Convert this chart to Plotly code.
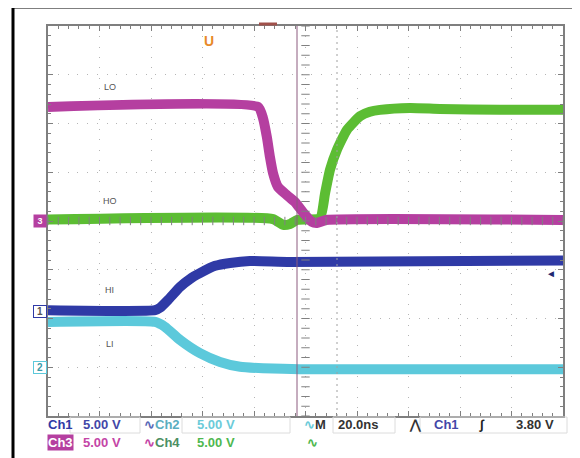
import plotly.graph_objects as go

# time in ns (20 ns/div, 0 = screen centre); levels in screen divisions
t_lo = [-100, -18.4, -16.5, -15.0, -13.8, -12.6, -10.7, -7.2, -4.1, -1.0, 2.5, 4.5, 8.0, 100]
v_lo = [2.34, 2.34, 2.11, 1.72, 1.31, 0.98, 0.70, 0.53, 0.39, 0.18, -0.02, -0.04, 0.02, 0.02]

t_ho = [-100, -12.6, -8.7, -6.0, -3.3, 5.6, 7.6, 9.5, 12.2, 16.1, 21.2, 25.0, 28.9, 40.6, 52.2, 75.5, 100]
v_ho = [0.03, 0.04, -0.08, -0.06, 0.02, 0.06, 0.57, 1.05, 1.46, 1.87, 2.15, 2.24, 2.28, 2.32, 2.30, 2.28, 2.28]

t_hi = [-100, -58.4, -56.5, -53.4, -48.7, -44.9, -41.0, -35.1, -29.3, -21.6, -6.0, 100]
v_hi = [-1.83, -1.83, -1.78, -1.62, -1.35, -1.19, -1.07, -0.92, -0.86, -0.82, -0.84, -0.81]

t_li = [-100, -58.4, -54.6, -48.7, -41.0, -33.2, -25.4, -16.5, -2.1, 100]
v_li = [-2.07, -2.07, -2.17, -2.44, -2.71, -2.89, -2.99, -3.02, -3.04, -3.04]

trace_names = ["LI", "HI", "HO", "LO"]
label_pos = {"LO": 2.75, "HO": 0.41, "HI": -1.42, "LI": -2.53}
gnd_marks = [("3", 0.0), ("1", -1.85), ("2", -3.0)]

C1, C2, C3, C4 = "#2f3aa6", "#5cc9db", "#b53fa0", "#5cbd33"

# page body adds an 8px margin, so the figure is 8px smaller and margins shifted
OFF = 8
W, H = 580 - OFF, 458 - OFF
L, R, T, B = 48, 563, 26, 416  # plot area in screen pixels


def px(x):
    return (x - L) / (R - L)


def py(y):
    return (B - y) / (B - T)


fig = go.Figure()
for t, v, c in [(t_li, v_li, C2), (t_hi, v_hi, C1), (t_ho, v_ho, C4), (t_lo, v_lo, C3)]:
    fig.add_trace(go.Scatter(x=t, y=v, mode="lines", line=dict(color=c, width=10, shape="spline", smoothing=0.5),
                             showlegend=False, hoverinfo="skip"))

# centre-axis tick marks
ticks = [i * 0.2 - 4 for i in range(41)]
fig.add_trace(go.Scatter(x=[0] * len(ticks), y=ticks, mode="markers",
                         marker=dict(symbol="line-ew", size=6, line=dict(width=1, color="#808080")),
                         showlegend=False, hoverinfo="skip"))
tx = [i * 4 - 100 for i in range(51)]
fig.add_trace(go.Scatter(x=tx, y=[0] * len(tx), mode="markers",
                         marker=dict(symbol="line-ns", size=6, line=dict(width=1, color="#808080")),
                         showlegend=False, hoverinfo="skip", cliponaxis=False))

axis_common = dict(showticklabels=False, showline=True, linecolor="#7f7f7f", linewidth=2, mirror="ticks",
                   ticks="inside", ticklen=5, tickcolor="#7f7f7f", zeroline=False,
                   showgrid=True, gridcolor="#b5b5b5", gridwidth=1, fixedrange=True)
fig.update_xaxes(range=[-100, 100], dtick=20, griddash="1px,9.3px",
                 minor=dict(ticks="inside", dtick=4, ticklen=3, tickcolor="#7f7f7f", showgrid=False), **axis_common)
fig.update_yaxes(range=[-4, 4], dtick=1, griddash="1px,8.75px",
                 minor=dict(ticks="inside", dtick=0.2, ticklen=3, tickcolor="#7f7f7f", showgrid=False), **axis_common)

# cursor lines
fig.add_shape(type="line", xref="paper", yref="paper", x0=px(297), x1=px(297), y0=0, y1=1,
              line=dict(color="#8c5a7e", width=1))
fig.add_shape(type="line", xref="paper", yref="paper", x0=px(337), x1=px(337), y0=0, y1=1,
              line=dict(color="#a0a0a0", width=1, dash="2px,4px"))
fig.add_shape(type="line", xref="paper", yref="paper", x0=px(259), x1=px(277), y0=py(24), y1=py(24),
              line=dict(color="#a0504a", width=3))

# outer black frame
fig.add_shape(type="line", xref="paper", yref="paper", x0=px(13), x1=px(13), y0=py(7), y1=py(470),
              line=dict(color="#000", width=3))
fig.add_shape(type="line", xref="paper", yref="paper", x0=px(12), x1=px(590), y0=py(7), y1=py(7),
              line=dict(color="#000", width=3))

for name in trace_names:
    fig.add_annotation(x=-76, y=label_pos[name], text=name, showarrow=False,
                       font=dict(size=9, color="#555", family="Liberation Sans"))

# ground markers on the left edge
for lab, lvl in gnd_marks:
    if lab == "3":
        fig.add_annotation(xref="paper", x=px(33), y=lvl, text="<b>3</b>", showarrow=False,
                           font=dict(size=9, color="#fff", family="Liberation Sans"), bgcolor=C3,
                           borderpad=0, width=12, height=12)
    else:
        col = C1 if lab == "1" else C2
        fig.add_annotation(xref="paper", x=px(33), y=lvl, text=f"<b>{lab}</b>", showarrow=False,
                           font=dict(size=10, color="#555" if lab == "1" else "#3a9aa8", family="Liberation Sans"),
                           bgcolor="#fff", bordercolor=col, borderwidth=1, borderpad=0, width=12, height=11)

# trigger markers
fig.add_annotation(xref="paper", yref="paper", x=px(202), y=py(31), text="<b>U</b>", showarrow=False,
                   font=dict(size=14, color="#e8892a", family="Liberation Sans"))
fig.add_annotation(xref="paper", x=px(558), y=-1.07, text="◄", showarrow=False,
                   font=dict(size=10, color="#202a70"))

# readout
row1, row2 = py(425), py(442)
readout = [
    (row1, 47, "Ch1", C1, None),
    (row1, 82, "5.00 V", "#4347a8", None),
    (row1, 143, "<span style='color:#5a6ab8'>∿</span>Ch2", "#5aaec0", None),
    (row1, 196, "5.00 V", "#6ccbd9", None),
    (row1, 303, "<span style='color:#6ccbd9'>∿</span>M", "#333", None),
    (row1, 337, "20.0ns", "#333", None),
    (row1, 408, "⋀", "#333", None),
    (row1, 433, "Ch1", "#4347a8", None),
    (row1, 478, "∫", "#222", None),
    (row1, 515, "3.80 V", "#333", None),
    (row2, 47, "Ch3", "#ffffff", C3),
    (row2, 82, "5.00 V", "#c445a6", None),
    (row2, 143, "<span style='color:#c445a6'>∿</span>Ch4", "#4b8f63", None),
    (row2, 196, "5.00 V", "#4fb84f", None),
    (row2, 306, "∿", "#4fb84f", None),
]
for yy, xx, txt, col, bg in readout:
    fig.add_annotation(xref="paper", yref="paper", x=px(xx), y=yy, xanchor="left", yanchor="middle",
                       text=f"<b>{txt}</b>", showarrow=False, borderpad=0,
                       bgcolor=bg if bg else "rgba(0,0,0,0)",
                       font=dict(size=13, color=col, family="Liberation Sans"))

# faint readout cell boxes
for x0, x1 in [(70, 140), (182, 290), (333, 395), (420, 567)]:
    fig.add_shape(type="rect", xref="paper", yref="paper", x0=px(x0), x1=px(x1), y0=py(417), y1=py(433),
                  line=dict(color="#dcdcdc", width=1))

fig.update_layout(width=W, height=H, margin=dict(l=L - OFF, r=580 - R, t=T - OFF, b=458 - B),
                  paper_bgcolor="#fff", plot_bgcolor="#fff", showlegend=False)
fig.write_html("out.html")
